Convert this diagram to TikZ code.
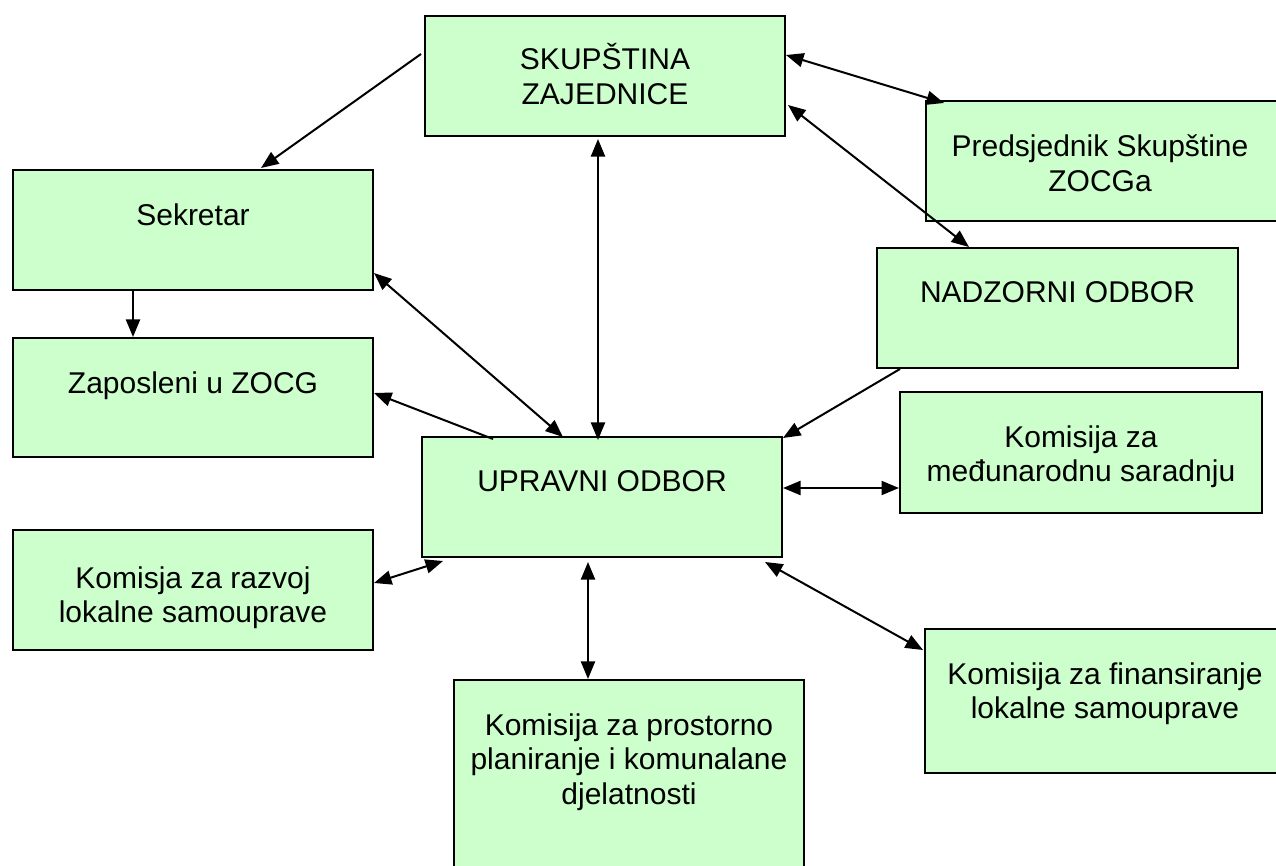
\documentclass[tikz,border=0pt]{standalone}
\usepackage{fontspec}
\setmainfont{Liberation Sans}
\usetikzlibrary{arrows.meta,calc}
\definecolor{BoxClr}{RGB}{204,255,204}
\definecolor{LineClr}{RGB}{0,0,0}

\begin{document}
\begin{tikzpicture}[x=0.4pt,y=-0.4pt,
  box/.style={draw=LineClr,line width=0.8pt,fill=BoxClr,anchor=north west,inner sep=0pt,minimum width=144pt,minimum height=48pt},
  txt/.style={anchor=north,inner sep=0pt,align=center,font=\fontsize{12}{13.8}\selectfont,yshift=-13.7pt},
  link/.style={line width=0.8pt,color=LineClr,-{Triangle[length=7pt,width=5.6pt]}},
  both/.style={line width=0.8pt,color=LineClr,{Triangle[length=7pt,width=5.6pt]}-{Triangle[length=7pt,width=5.6pt]}}]
\useasboundingbox (0,0) rectangle (1276,866);

\node[box] (sk) at (424,15) {};
\node[box,minimum width=150pt] (pr) at (925,100) {};
\node[box] (se) at (12,169) {};
\node[box,minimum width=144.4pt] (nd) at (876,247) {};
\node[box,minimum height=47.6pt] (za) at (12,337) {};
\node[box,minimum width=144.8pt,minimum height=48.4pt] (me) at (899,391) {};
\node[box] (up) at (421,436) {};
\node[box] (rz) at (12,529) {};
\node[box,minimum width=150pt,minimum height=57.6pt] (fi) at (924,628) {};
\node[box,minimum width=140pt,minimum height=80pt] (pp) at (453,679) {};

\node[txt,yshift=2.4pt] (skT) at (sk.north) {SKUPŠTINA\\ZAJEDNICE};
\node[txt] (prT) at ($(pr.north west)+(175,0)$) {Predsjednik Skupštine\\ZOCGa};
\node[txt] (seT) at (se.north) {Sekretar};
\node[txt] (ndT) at (nd.north) {NADZORNI ODBOR};
\node[txt] (zaT) at (za.north) {Zaposleni u ZOCG};
\node[txt] (meT) at (me.north) {Komisija za\\međunarodnu saradnju};
\node[txt] (upT) at (up.north) {UPRAVNI ODBOR};
\node[txt,yshift=-1.2pt] (rzT) at (rz.north) {Komisja za razvoj\\lokalne samouprave};
\node[txt] (fiT) at ($(fi.north west)+(181,0)$) {Komisija za finansiranje\\lokalne samouprave};
\node[txt] (ppT) at (pp.north) {Komisija za prostorno\\planiranje i komunalane\\djelatnosti};

\draw[link] ($(sk.north west)+(-3,39)$) -- ($(se.north west)+(249,-1)$);
\draw[link] ($(se.south west)+(121,0)$) -- ($(za.north west)+(121,0)$);
\draw[both] ($(sk.south west)+(174,2)$) -- ($(up.north west)+(177,4)$);
\draw[both] ($(sk.north east)+(0,40)$) -- ($(pr.north west)+(19,3)$);
\draw[both] ($(sk.north east)+(2,90)$) -- ($(nd.north west)+(93,0)$);
\draw[both] ($(se.north east)+(0,104)$) -- ($(up.north west)+(142,1)$);
\draw[link] ($(up.north west)+(72,3)$) -- ($(za.north east)+(0,56)$);
\draw[link] ($(nd.south west)+(24,0)$) -- ($(up.north east)+(0,2)$);
\draw[both] ($(up.north east)+(0,52)$) -- ($(me.north west)+(0,97)$);
\draw[both] ($(up.south west)+(22,3)$) -- ($(rz.north east)+(0,54)$);
\draw[both] ($(up.south west)+(167,4)$) -- ($(pp.north west)+(135,0)$);
\draw[both] ($(up.south east)+(-18,4)$) -- ($(fi.north west)+(-1,22)$);

\end{tikzpicture}
\end{document}
